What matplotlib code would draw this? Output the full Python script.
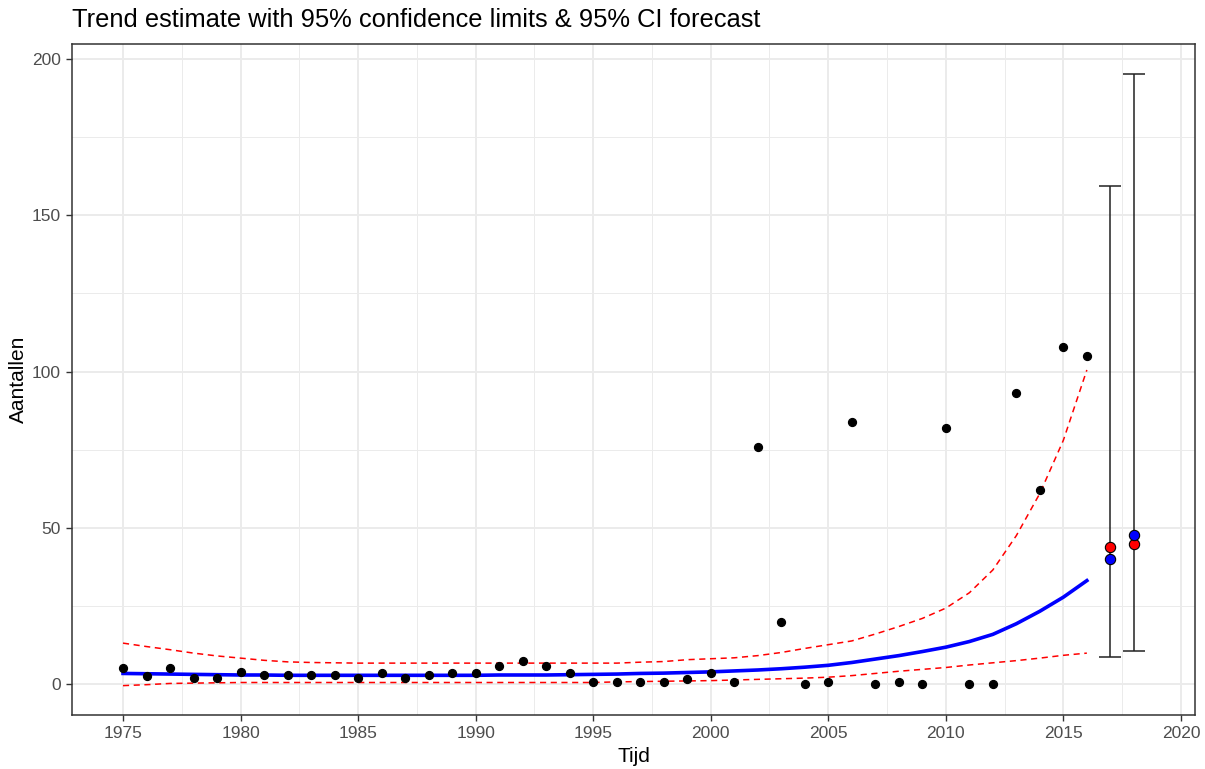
import matplotlib
matplotlib.use("Agg")
import matplotlib.pyplot as plt
from matplotlib.ticker import MultipleLocator
import numpy as np

plt.rcParams['font.family'] = ['Liberation Sans', 'DejaVu Sans']

years = list(range(1975, 2017))
counts = [5, 2.5, 5, 2, 2, 4, 3, 3, 3, 3, 2, 3.5, 2, 3, 3.5,
          3.5, 5.8, 7.5, 5.8, 3.5, 0.8, 0.8, 0.8, 0.8, 1.7, 3.5, 0.8,
          76, 20, 0, 0.8, 84, 0, 0.8, 0, 82, 0, 0, 93, 62, 108, 105]
trend = [3.4, 3.3, 3.2, 3.1, 3.0, 2.9, 2.9, 2.8, 2.8, 2.8, 2.8, 2.8, 2.8, 2.8, 2.8,
         2.8, 2.9, 2.9, 2.9, 3.0, 3.1, 3.2, 3.4, 3.5, 3.7, 3.9, 4.2,
         4.5, 4.9, 5.4, 6.0, 6.9, 8.0, 9.1, 10.4, 11.8, 13.6, 15.9, 19.3, 23.3, 27.8, 33.1]
upper = [13.1, 12.0, 11.0, 9.9, 9.0, 8.3, 7.6, 7.1, 6.9, 6.8, 6.7, 6.7, 6.7, 6.7, 6.7,
         6.7, 6.7, 6.7, 6.7, 6.7, 6.7, 6.7, 7.0, 7.2, 7.8, 8.1, 8.4,
         9.1, 10.1, 11.4, 12.6, 13.8, 16.0, 18.4, 21.0, 24.3, 29.2, 36.5, 47.5, 61.0, 78.0, 100.5]
lower = [-0.5, -0.2, 0.2, 0.3, 0.4, 0.5, 0.5, 0.5, 0.5, 0.5, 0.5, 0.5, 0.5, 0.5, 0.5,
         0.5, 0.5, 0.5, 0.5, 0.5, 0.5, 0.7, 0.8, 0.9, 1.0, 1.1, 1.3,
         1.5, 1.7, 1.9, 2.2, 2.7, 3.4, 4.1, 4.7, 5.3, 6.1, 6.8, 7.5, 8.3, 9.2, 9.9]

fc_years = [2017, 2018]
fc_lower = [8.7, 10.6]
fc_upper = [159.4, 195.2]
fc_red = [44.0, 44.8]
fc_blue = [39.9, 47.7]

fig = plt.figure(figsize=(12.05, 7.69), dpi=100)
ax = fig.add_axes([72/1205, 1-715/769, (1195-72)/1205, (715-44)/769])

grid_c = '#EBEBEB'
ax.set_axisbelow(True)
ax.xaxis.set_major_locator(MultipleLocator(5))
ax.xaxis.set_minor_locator(MultipleLocator(2.5))
ax.yaxis.set_major_locator(MultipleLocator(50))
ax.yaxis.set_minor_locator(MultipleLocator(25))
ax.grid(which='major', color=grid_c, linewidth=1.4)
ax.grid(which='minor', color=grid_c, linewidth=0.7)
ax.tick_params(which='minor', length=0)
ax.tick_params(which='major', length=4, width=1, color='#333333',
               labelcolor='#4D4D4D', labelsize=12.5, pad=4)

ax.plot(years, upper, color='red', linestyle=(0, (4, 3)), linewidth=1.1, zorder=3)
ax.plot(years, lower, color='red', linestyle=(0, (4, 3)), linewidth=1.1, zorder=3)
ax.plot(years, trend, color='blue', linewidth=2.6, zorder=4)
ax.scatter(years, counts, s=32, color='black', zorder=5)

mid = [(a + b) / 2 for a, b in zip(fc_lower, fc_upper)]
ax.errorbar(fc_years, mid,
            yerr=[[m - l for m, l in zip(mid, fc_lower)],
                  [u - m for m, u in zip(mid, fc_upper)]],
            fmt='none', ecolor='#222222', elinewidth=1.1, capsize=7.6, capthick=1.1, zorder=4)
ax.scatter(fc_years, fc_red, s=55, color='red', edgecolor='black', linewidth=0.8, zorder=6)
ax.scatter(fc_years, fc_blue, s=55, color='blue', edgecolor='black', linewidth=0.8, zorder=6)

ax.set_xlim(1972.83, 2020.6)
ax.set_ylim(-9.9, 204.8)

for s in ax.spines.values():
    s.set_color('#333333')
    s.set_linewidth(1.1)

ax.set_xlabel('Tijd', fontsize=15, color='black', labelpad=4)
ax.set_ylabel('Aantallen', fontsize=15, color='black', labelpad=3)
fig.text(72/1205, 1-20/769, 'Trend estimate with 95% confidence limits & 95% CI forecast',
         fontsize=18.4, color='black', ha='left', va='center')

fig.savefig('out.png', dpi=100)
